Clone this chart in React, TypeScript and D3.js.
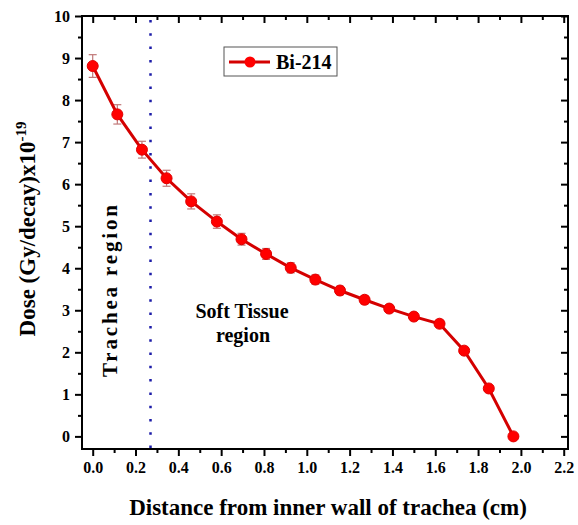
import React, { useRef, useEffect } from "react";
import * as d3 from "d3";

// Bi-214 dose vs distance from inner wall of trachea
const distance = [0, 0.115, 0.23, 0.345, 0.46, 0.58, 0.695, 0.81, 0.925, 1.04, 1.155, 1.27, 1.385, 1.5, 1.62, 1.735, 1.85, 1.965];
const dose = [8.81, 7.66, 6.82, 6.14, 5.59, 5.11, 4.69, 4.34, 4.01, 3.73, 3.47, 3.25, 3.04, 2.85, 2.68, 2.04, 1.14, 0.0];
const doseErr = [0.27, 0.23, 0.2, 0.19, 0.18, 0.16, 0.14, 0.13, 0.12, 0.11, 0.1, 0.1, 0.09, 0.09, 0.09, 0.08, 0.07, 0.05];
const boundary = 0.27;
const xTicks = [0, 0.2, 0.4, 0.6, 0.8, 1.0, 1.2, 1.4, 1.6, 1.8, 2.0, 2.2];
const yTicks = [0, 1, 2, 3, 4, 5, 6, 7, 8, 9, 10];

const W = 578;
const H = 525;
const FONT = "'Liberation Serif', 'Times New Roman', serif";

export default function App() {
  const ref = useRef<SVGSVGElement>(null);

  useEffect(() => {
    if (!ref.current) return;
    const svg = d3.select(ref.current);
    svg.selectAll("*").remove();

    const left = 82, right = 568, top = 16, bottom = 449;
    const x = d3.scaleLinear().domain([-0.05, 2.22]).range([left, right]);
    const y = d3.scaleLinear().domain([-0.3, 10]).range([bottom, top]);

    const xMinor = d3.range(0, 2.21, 0.1).filter((v) => Math.round(v * 10) % 2 === 1);
    const yMinor = d3.range(0.5, 10, 1);

    // axes (outward ticks on left/bottom, inward mirror on top/right)
    const fmt = d3.format(".1f");
    svg.append("g").attr("class", "lab").attr("transform", `translate(0,${bottom})`)
      .call(d3.axisBottom(x).tickValues(xTicks).tickFormat((d) => fmt(d as number)).tickSize(7).tickPadding(6));
    svg.append("g").attr("transform", `translate(0,${bottom})`)
      .call(d3.axisBottom(x).tickValues(xMinor).tickFormat(() => "").tickSize(4));
    svg.append("g").attr("class", "lab").attr("transform", `translate(${left},0)`)
      .call(d3.axisLeft(y).tickValues(yTicks).tickSize(7).tickPadding(5));
    svg.append("g").attr("transform", `translate(${left},0)`)
      .call(d3.axisLeft(y).tickValues(yMinor).tickFormat(() => "").tickSize(4));
    svg.append("g").attr("transform", `translate(0,${top})`)
      .call(d3.axisBottom(x).tickValues(xTicks).tickFormat(() => "").tickSize(7));
    svg.append("g").attr("transform", `translate(0,${top})`)
      .call(d3.axisBottom(x).tickValues(xMinor).tickFormat(() => "").tickSize(4));
    svg.append("g").attr("transform", `translate(${right},0)`)
      .call(d3.axisLeft(y).tickValues(yTicks).tickFormat(() => "").tickSize(7));
    svg.append("g").attr("transform", `translate(${right},0)`)
      .call(d3.axisLeft(y).tickValues(yMinor).tickFormat(() => "").tickSize(4));

    svg.selectAll(".domain").remove();
    svg.selectAll(".tick line").attr("stroke", "#000").attr("stroke-width", 2);
    svg.selectAll("g").attr("font-family", null).attr("font-size", null);
    svg.selectAll(".lab .tick text")
      .style("font-family", FONT).style("font-weight", "bold").style("font-size", "16px").attr("fill", "#000");

    // frame
    svg.append("rect")
      .attr("x", left).attr("y", top).attr("width", right - left).attr("height", bottom - top)
      .attr("fill", "none").attr("stroke", "#000").attr("stroke-width", 2);

    // boundary line
    svg.append("line")
      .attr("x1", x(boundary)).attr("x2", x(boundary)).attr("y1", top + 4).attr("y2", bottom)
      .attr("stroke", "#1c1ca8").attr("stroke-width", 2.5)
      .attr("stroke-dasharray", "2.5,10.8");

    const pts = distance.map((d, i) => ({ x: d, y: dose[i], e: doseErr[i] }));

    // error bars
    const eb = svg.append("g").attr("stroke", "#c07878").attr("stroke-width", 1.2).attr("fill", "none");
    pts.forEach((p) => {
      const cx = x(p.x);
      eb.append("line").attr("x1", cx).attr("x2", cx).attr("y1", y(p.y + p.e)).attr("y2", y(p.y - p.e));
      eb.append("line").attr("x1", cx - 4).attr("x2", cx + 4).attr("y1", y(p.y + p.e)).attr("y2", y(p.y + p.e));
      eb.append("line").attr("x1", cx - 4).attr("x2", cx + 4).attr("y1", y(p.y - p.e)).attr("y2", y(p.y - p.e));
    });

    const line = d3.line<{ x: number; y: number }>().x((d) => x(d.x)).y((d) => y(d.y));
    svg.append("path").datum(pts).attr("d", line)
      .attr("fill", "none").attr("stroke", "#d40000").attr("stroke-width", 3);

    svg.append("g").selectAll("circle").data(pts).enter().append("circle")
      .attr("cx", (d) => x(d.x)).attr("cy", (d) => y(d.y)).attr("r", 5.5)
      .attr("fill", "#ff0000").attr("stroke", "#e00000").attr("stroke-width", 1);

    // legend
    const lg = svg.append("g");
    lg.append("rect").attr("x", 224).attr("y", 47).attr("width", 113).attr("height", 29)
      .attr("fill", "#fff").attr("stroke", "#555").attr("stroke-width", 1);
    lg.append("line").attr("x1", 229).attr("x2", 270).attr("y1", 62).attr("y2", 62)
      .attr("stroke", "#d40000").attr("stroke-width", 3);
    lg.append("circle").attr("cx", 250).attr("cy", 62).attr("r", 5.5).attr("fill", "#ff0000");
    lg.append("text").attr("x", 276).attr("y", 69).attr("font-family", FONT).attr("font-weight", "bold")
      .attr("font-size", 20).text("Bi-214");

    // region annotations
    svg.append("text")
      .attr("transform", `translate(117,291) rotate(-90)`)
      .attr("text-anchor", "middle").attr("font-family", FONT).attr("font-weight", "bold")
      .attr("font-size", 21).attr("textLength", 172).attr("lengthAdjust", "spacing")
      .text("Trachea region");
    svg.append("text").attr("x", 242).attr("y", 318).attr("text-anchor", "middle")
      .attr("font-family", FONT).attr("font-weight", "bold").attr("font-size", 20).text("Soft Tissue");
    svg.append("text").attr("x", 243).attr("y", 342).attr("text-anchor", "middle")
      .attr("font-family", FONT).attr("font-weight", "bold").attr("font-size", 20).text("region");

    // axis titles
    svg.append("text").attr("x", 328).attr("y", 515).attr("text-anchor", "middle")
      .attr("font-family", FONT).attr("font-weight", "bold").attr("font-size", 23)
      .text("Distance from inner wall of trachea (cm)");

    const yl = svg.append("text")
      .attr("transform", `translate(35,229) rotate(-90)`)
      .attr("text-anchor", "middle").attr("font-family", FONT).attr("font-weight", "bold")
      .attr("font-size", 23);
    yl.append("tspan").text("Dose (Gy/decay)x10");
    yl.append("tspan").attr("font-size", 15).attr("dy", -9).text("-19");
  }, []);

  return (
    <svg
      ref={ref}
      width={W}
      height={H}
      style={{ position: "absolute", left: 0, top: 0, background: "#fff" }}
    />
  );
}
